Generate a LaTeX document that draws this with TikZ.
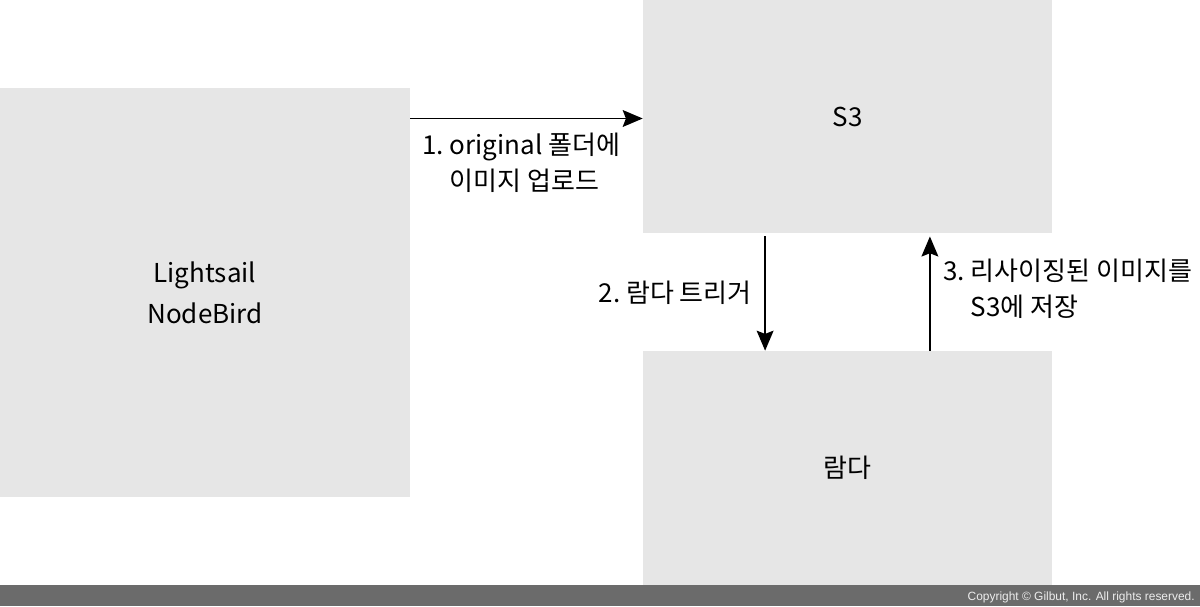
\documentclass[tikz,border=0pt]{standalone}
\usepackage{fontspec}
\setmainfont{Noto Sans CJK KR}
\newfontfamily\copyfont{Liberation Sans}
\usepackage{xcolor}
\usepackage{tikz}
\usetikzlibrary{shapes,arrows.meta}
\definecolor{boxgray}{HTML}{E6E6E6}
\definecolor{bargray}{HTML}{6B6B6B}
\definecolor{copygray}{HTML}{EDEDED}
\newcommand{\boxfont}{\fontsize{18.5}{29}\selectfont}
\newcommand{\lblfont}{\fontsize{18.5}{25.5}\selectfont}

\begin{document}
\begin{tikzpicture}[
        box/.style={draw=none,fill=boxgray,rectangle,align=center,inner sep=0pt,font=\boxfont},
        arr/.style={-{Stealth[length=5mm,width=4.2mm,inset=0.8mm]},line width=1.4pt},
        lbl/.style={align=left,inner sep=0pt,font=\lblfont}]
            \useasboundingbox (0,0) rectangle (30,15.15);
            \node[box,minimum width=10.25cm,minimum height=10.225cm] (light) at (5.125,7.8375) {Lightsail\\NodeBird};
            \node[box,minimum width=10.225cm,minimum height=5.825cm] (s3) at (21.1875,12.2375) {S3};
            \node[box,minimum width=10.225cm,minimum height=5.85cm] (lambda) at (21.1875,3.45) {람다};
            \draw[arr] ([yshift=-0.05cm]light.east |- s3.west) -- ([yshift=-0.05cm]s3.west);
            \draw[arr] ([xshift=-2.06cm,yshift=-0.08cm]s3.south) -- ([xshift=-2.06cm]lambda.north);
            \draw[arr] ([xshift=2.06cm]lambda.north) -- ([xshift=2.06cm,yshift=-0.08cm]s3.south);
            \node[lbl,anchor=west] (up) at (10.55,11.075) {1.~original 폴더에\\\phantom{1.~}이미지 업로드};
            \node[lbl,anchor=east] (trig) at (18.8,7.825) {2.~람다 트리거};
            \node[lbl,anchor=west] (save) at (23.575,7.925) {3.~리사이징된 이미지를\\\phantom{3.~}S3에 저장};
            %{copyright bar}
            \fill[bargray] (0,0) rectangle (30,0.525);
            \node[anchor=east,inner sep=0pt,text=copygray,font=\copyfont\fontsize{8.5}{10}\selectfont] (copy) at (29.875,0.225) {Copyright \textcopyright{} Gilbut, Inc. All rights reserved.};
        \end{tikzpicture}
\end{document}
